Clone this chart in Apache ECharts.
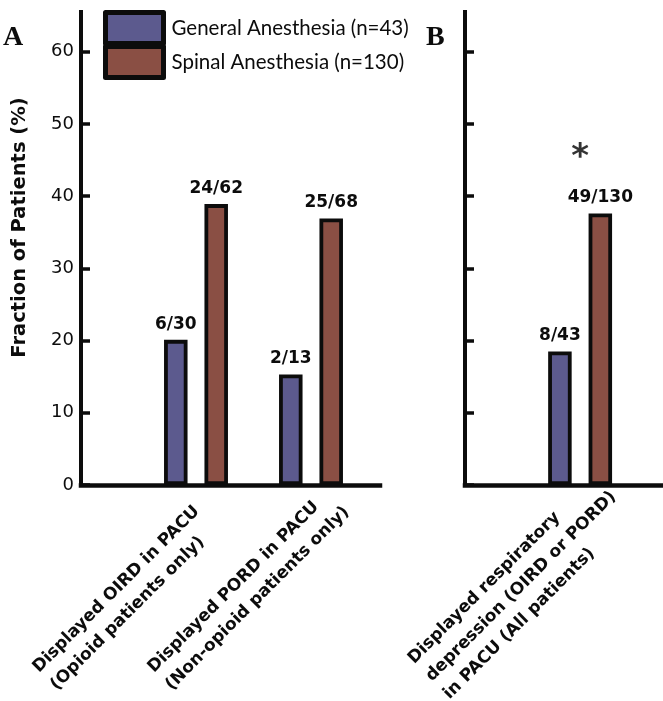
<!DOCTYPE html>
<html><head><meta charset="utf-8">
<script src="https://cdn.jsdelivr.net/npm/echarts@6/dist/echarts.min.js"></script>
<style>html,body{margin:0;padding:0;background:#fff}#c{width:663px;height:701px}</style>
</head><body><div id="c"></div>
<script>
// ---- data ----
const seriesNames = ['General Anesthesia (n=43)', 'Spinal Anesthesia (n=130)'];
const groupsA = [1, 2];
const groupsB = [1];
const categoriesA = [
  ['Displayed OIRD in PACU', '(Opioid patients only)'],
  ['Displayed PORD in PACU', '(Non-opioid patients only)']
];
const categoriesB = [
  ['Displayed respiratory', 'depression (OIRD or PORD)', 'in PACU (All patients)']
];
const generalA = [20.1, 15.3];
const spinalA = [38.9, 36.9];
const generalB = [18.5];
const spinalB = [37.6];
const generalLabelsA = ['6/30', '2/13'];
const spinalLabelsA = ['24/62', '25/68'];
const generalLabelsB = ['8/43'];
const spinalLabelsB = ['49/130'];
const yTicks = [0, 10, 20, 30, 40, 50, 60];
const significanceB = [45.3];
const yAxisTitle = 'Fraction of Patients (%)';
const panelLetters = ['A', 'B'];

// ---- styles ----
const INK = '#0c0c0c';
const BLUE = '#5c5a8e';
const BROWN = '#8a4f44';
const catText = { fontFamily: 'DejaVu Sans', fontWeight: 'bold', fontSize: 17, lineHeight: 25, color: INK };

function xAxisCfg(gridIndex, max, groups, cats) {
  return {
    type: 'value', gridIndex: gridIndex, min: 0, max: max,
    axisLine: { show: true, onZero: false, lineStyle: { color: INK, width: 4.5, cap: 'square' } },
    axisTick: { show: false },
    splitLine: { show: false },
    axisLabel: Object.assign({
      show: true, customValues: groups, rotate: 45, margin: 24, width: 227,
      padding: [26, 0, 0, 0],
      formatter: function (v) { return cats[Math.round(v) - 1].map(function (s) { return '{a|' + s + '}'; }).join('\n'); },
      rich: { a: Object.assign({ align: 'left' }, catText) }
    }, catText)
  };
}
function yAxisCfg(gridIndex, showLabels) {
  return {
    type: 'value', gridIndex: gridIndex, min: 0, max: 65.5,
    axisLine: { show: true, lineStyle: { color: INK, width: 4, cap: 'square' } },
    axisTick: { show: true, inside: true, length: 9, customValues: yTicks, lineStyle: { color: INK, width: 3.5 } },
    axisLabel: { show: showLabels, customValues: yTicks, margin: 7, fontFamily: 'DejaVu Sans', fontSize: 18, color: INK },
    splitLine: { show: false }
  };
}
function barSeries(name, axisIdx, color, groups, values, labels) {
  return {
    type: 'bar', name: name, xAxisIndex: axisIdx, yAxisIndex: axisIdx,
    barWidth: 23.5, barGap: '72%',
    itemStyle: { color: color, borderColor: INK, borderWidth: 3.8 },
    data: groups.map(function (g, i) { return [g, values[i]]; }),
    label: {
      show: true, position: 'top', distance: 7,
      fontFamily: 'DejaVu Sans', fontWeight: 'bold', fontSize: 17, color: INK,
      formatter: function (p) { return labels[p.dataIndex]; }
    }
  };
}

const chart = echarts.init(document.getElementById('c'), null, { renderer: 'canvas' });
chart.setOption({
  backgroundColor: '#fff',
  animation: false,
  grid: [
    { left: 81, top: 12, width: 299, height: 473, outerBoundsMode: 'none' },
    { left: 465, top: 12, width: 198, height: 473, outerBoundsMode: 'none' }
  ],
  xAxis: [xAxisCfg(0, 2.6, groupsA, categoriesA), xAxisCfg(1, 1.72, groupsB, categoriesB)],
  yAxis: [yAxisCfg(0, true), yAxisCfg(1, false)],
  legend: {
    data: seriesNames, orient: 'vertical', left: 103, top: 10, padding: 0,
    itemWidth: 58, itemHeight: 31, itemGap: -2, icon: 'rect', selectedMode: false,
    itemStyle: { borderColor: INK, borderWidth: 5, borderJoin: 'round' },
    textStyle: { fontFamily: 'Lato', fontSize: 20.5, color: INK, padding: [0, 0, 0, 3] }
  },
  series: [
    barSeries(seriesNames[0], 0, BLUE, groupsA, generalA, generalLabelsA),
    barSeries(seriesNames[1], 0, BROWN, groupsA, spinalA, spinalLabelsA),
    barSeries(seriesNames[0], 1, BLUE, groupsB, generalB, generalLabelsB),
    barSeries(seriesNames[1], 1, BROWN, groupsB, spinalB, spinalLabelsB),
    {
      type: 'scatter', xAxisIndex: 1, yAxisIndex: 1, symbolSize: 1, silent: true,
      itemStyle: { color: 'rgba(0,0,0,0)' },
      data: groupsB.map(function (g, i) { return [g, significanceB[i]]; }),
      label: { show: true, position: 'inside', formatter: '*', fontFamily: 'DejaVu Sans', fontWeight: 'bold', fontSize: 34, color: '#000' }
    }
  ],
  graphic: [
    { type: 'text', x: 3, y: 37.5, style: { text: panelLetters[0], fontFamily: 'Liberation Serif', fontWeight: 'bold', fontSize: 28, fill: INK, verticalAlign: 'middle' } },
    { type: 'text', x: 426, y: 38, style: { text: panelLetters[1], fontFamily: 'Liberation Serif', fontWeight: 'bold', fontSize: 28, fill: INK, verticalAlign: 'middle' } },
    { type: 'text', x: 19.5, y: 227.5, rotation: Math.PI / 2, style: { text: yAxisTitle, fontFamily: 'DejaVu Sans', fontWeight: 'bold', fontSize: 19.5, fill: INK, align: 'center', verticalAlign: 'middle' } }
  ]
});
</script>
</body></html>
